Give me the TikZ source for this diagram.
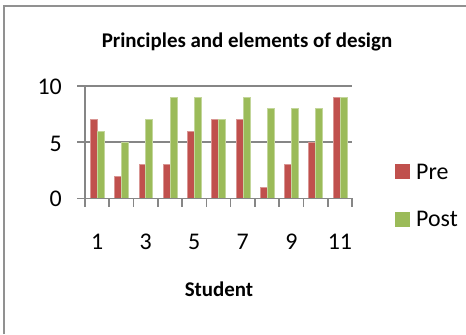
\documentclass[tikz,border=0pt]{standalone}
\usepackage{fontspec}
\setmainfont{Carlito}
\definecolor{prec}{HTML}{C0504D}
\definecolor{postc}{HTML}{9BBB59}
\definecolor{axisc}{RGB}{134,134,134}
\definecolor{framec}{RGB}{145,145,145}
\tikzset{
  gridln/.style={draw=axisc, line width=1.6bp},
  axisln/.style={draw=axisc, line width=1.6bp},
  prebar/.style={fill=prec, draw=prec!60!white, line width=0.4bp},
  postbar/.style={fill=postc, draw=postc!60!white, line width=0.4bp},
  ticklbl/.style={inner sep=0pt, anchor=base, font=\fontsize{24}{28}\selectfont},
  ylbl/.style={inner sep=0pt, anchor=base east, font=\fontsize{24}{28}\selectfont},
  titlelbl/.style={inner sep=0pt, anchor=base, font=\bfseries\fontsize{21}{25}\selectfont},
  leglbl/.style={inner sep=0pt, anchor=base west, font=\fontsize{24}{28}\selectfont},
}
\def\chxo{85}
\def\chxe{352}
\def\chcw{24.2727}
\def\chbw{6.9351}
\def\chyo{198.3}
\def\chun{11.26}
\begin{document}
\begin{tikzpicture}[x=1bp,y=-1bp]
\useasboundingbox (0,0) rectangle (466,334);
% outer frame
\draw[framec, line width=1.6bp] (4,334) -- (4,6) -- (466,6);
% gridlines
\foreach \v in {5,10}
  \draw[gridln] (77,{\chyo-\v*\chun}) -- (\chxe,{\chyo-\v*\chun});
% bars
\foreach \pre/\post [count=\i from 0] in {7/6,2/5,3/7,3/9,6/9,7/7,7/9,1/8,3/8,5/8,9/9}{
  \fill[prebar] ({\chxo+\i*\chcw+0.75*\chbw},\chyo) rectangle ++(\chbw,{-\pre*\chun});
  \fill[postbar] ({\chxo+\i*\chcw+1.75*\chbw},\chyo) rectangle ++(\chbw,{-\post*\chun});
}
% axes
\draw[axisln] (\chxo,{\chyo-10*\chun}) -- (\chxo,\chyo);
\draw[axisln] (77,\chyo) -- (\chxe,\chyo);
\foreach \i in {0,...,11}
  \draw[axisln] ({\chxo+\i*\chcw},\chyo) -- ++(0,8.3);
% y labels
\node[ylbl] (y0) at (62,{\chyo+8}) {0};
\node[ylbl] (y5) at (62,{\chyo-5*\chun+9}) {5};
\node[ylbl] (y10) at (62,{\chyo-10*\chun+9}) {10};
% x labels
\foreach \k in {1,3,5,7,9,11}
  \node[ticklbl] (x\k) at ({\chxo+(\k-0.5)*\chcw},249) {\k};
% titles
\node[titlelbl] (title) at (247,47.5) {Principles and elements of design};
\node[titlelbl] (xtitle) at (219,296) {Student};
% legend
\fill[prec] (395,164) rectangle (410,179);
\fill[postc] (395,212) rectangle (410,227);
\node[leglbl] (lpre) at (416,179) {Pre};
\node[leglbl] (lpost) at (416,226) {Post};
\end{tikzpicture}
\end{document}
